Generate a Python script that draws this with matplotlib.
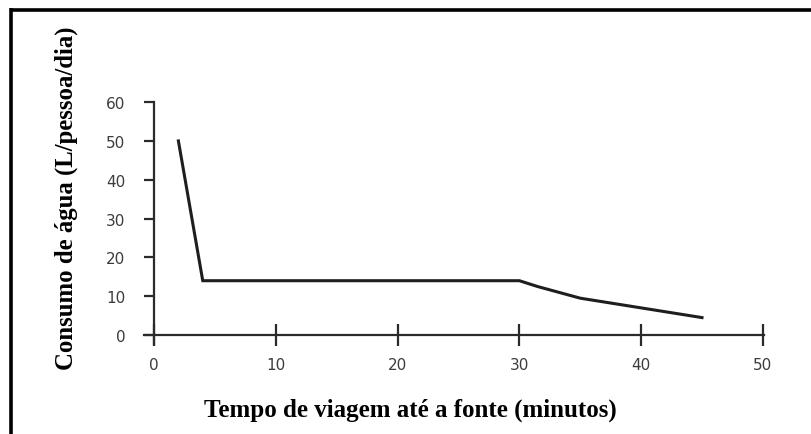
import matplotlib
matplotlib.use("Agg")
import matplotlib.pyplot as plt
from matplotlib.lines import Line2D

travel_time = [2, 4, 30, 31.5, 35, 40, 45]
consumption = [50, 14, 14, 12.5, 9.5, 7, 4.5]
x_ticks = [0, 10, 20, 30, 40, 50]
y_ticks = [0, 10, 20, 30, 40, 50, 60]
x_label = "Tempo de viagem até a fonte (minutos)"
y_label = "Consumo de água (L/pessoa/dia)"

W, H = 811, 435
fig = plt.figure(figsize=(W / 100, H / 100), dpi=100)

# axes placement in pixels
left_px, right_px = 144.3, 763.5
top_px, bottom_px = 102.7, 345.0
ax = fig.add_axes([left_px / W, 1 - bottom_px / H, (right_px - left_px) / W, (bottom_px - top_px) / H])
ax.set_xlim(-0.8, 50.05)
ax.set_ylim(-2.3, 60.1)

ax.plot(travel_time, consumption, color="#1e1e1e", lw=2.2, solid_joinstyle="miter")

for s in ["top", "right"]:
    ax.spines[s].set_visible(False)
ax.spines["left"].set_position(("data", 0))
ax.spines["bottom"].set_position(("data", 0))
for s in ["left", "bottom"]:
    ax.spines[s].set_color("#2a2a2a")
    ax.spines[s].set_linewidth(1.6)

ax.set_xticks(x_ticks)
ax.set_yticks(y_ticks)
ax.tick_params(axis="x", direction="inout", length=16, width=1.6, color="#2a2a2a",
               pad=8, labelsize=11, labelcolor="#3c3c3c")
ax.tick_params(axis="y", direction="out", length=7.2, width=1.6, color="#2a2a2a",
               pad=13.5, labelsize=11, labelcolor="#3c3c3c")
for lbl in ax.get_xticklabels() + ax.get_yticklabels():
    lbl.set_family("DejaVu Sans")

fig.text(410 / W, 1 - 410 / H, x_label, ha="center", va="center",
         family="Liberation Serif", weight="bold", fontsize=18)
fig.text(66 / W, 1 - 198 / H, y_label, ha="center", va="center", rotation=90,
         family="Liberation Serif", weight="bold", fontsize=17.8)

# outer frame
fig.add_artist(Line2D([10.5 / W, 1.0], [1 - 10.5 / H, 1 - 10.5 / H], color="black", lw=2.6,
                      transform=fig.transFigure, solid_capstyle="butt"))
fig.add_artist(Line2D([10.5 / W, 10.5 / W], [0.0, 1 - 9.2 / H], color="black", lw=2.6,
                      transform=fig.transFigure, solid_capstyle="butt"))

fig.savefig("out.png", dpi=100)
